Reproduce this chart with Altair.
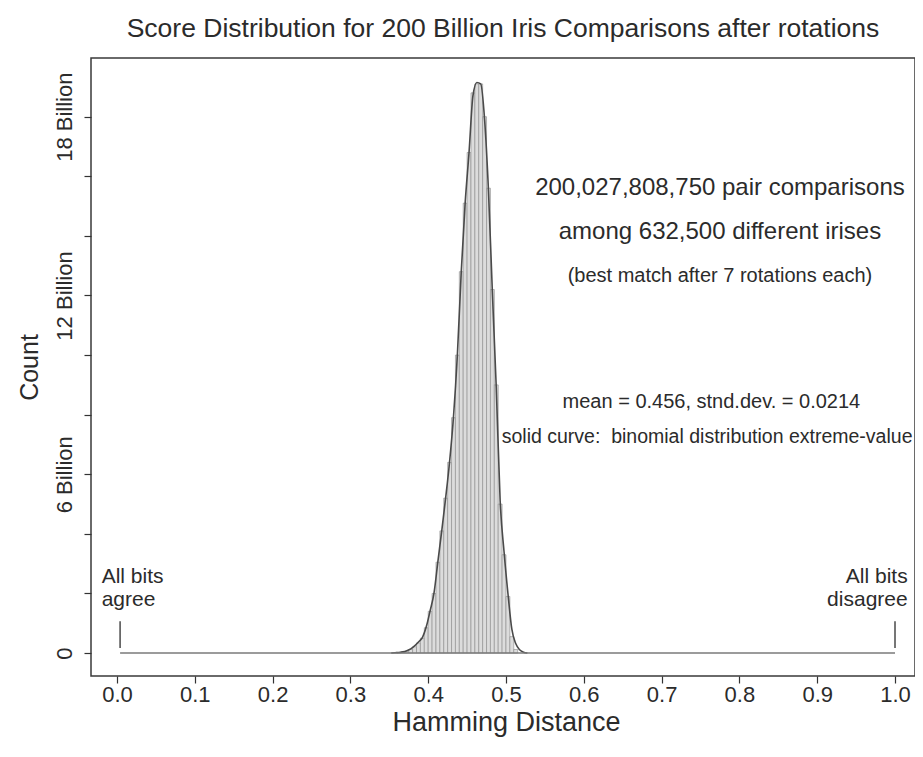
import altair as alt
import pandas as pd

# ---------------- data (counts in billions) ----------------
bin_left = [0.360, 0.365, 0.370, 0.375, 0.380, 0.385, 0.390, 0.395,
            0.400, 0.405, 0.410, 0.415, 0.420, 0.425, 0.430, 0.435,
            0.440, 0.445, 0.450, 0.455, 0.460, 0.465, 0.470, 0.475,
            0.480, 0.485, 0.490, 0.495, 0.500, 0.505, 0.510]
bin_right = [0.365, 0.370, 0.375, 0.380, 0.385, 0.390, 0.395, 0.400,
             0.405, 0.410, 0.415, 0.420, 0.425, 0.430, 0.435, 0.440,
             0.445, 0.450, 0.455, 0.460, 0.465, 0.470, 0.475, 0.480,
             0.485, 0.490, 0.495, 0.500, 0.505, 0.510, 0.515]
bar_count = [0.01, 0.03, 0.06, 0.12, 0.21, 0.34, 0.50, 0.85,
             1.40, 2.00, 3.05, 4.10, 5.20, 6.40, 7.90, 10.0,
             12.8, 15.1, 16.8, 18.8, 19.1, 19.1, 18.0, 15.6,
             12.2, 9.0, 5.0, 3.3, 1.9, 0.55, 0.12]

curve_x = [0.3525, 0.3575, 0.3625, 0.3675, 0.3725, 0.3775, 0.3825, 0.3875,
           0.3925, 0.3975, 0.4025, 0.4075, 0.4125, 0.4175, 0.4225, 0.4275,
           0.4325, 0.4375, 0.4425, 0.4475, 0.4525, 0.4575, 0.4625, 0.4675,
           0.4725, 0.4775, 0.4825, 0.4875, 0.4925, 0.4975, 0.5025, 0.5075,
           0.5125, 0.5175, 0.5225, 0.5275]
curve_y = [0.0, 0.01, 0.02, 0.04, 0.08, 0.14, 0.24, 0.37,
           0.52, 0.88, 1.42, 2.02, 3.08, 4.12, 5.22, 6.42,
           7.92, 10.0, 12.8, 15.1, 16.8, 18.7, 19.15, 19.1,
           17.9, 15.5, 12.1, 8.9, 5.1, 3.4, 2.0, 0.80,
           0.32, 0.11, 0.03, 0.0]

x_ticks = [0.0, 0.1, 0.2, 0.3, 0.4, 0.5, 0.6, 0.7, 0.8, 0.9, 1.0]
y_ticks = [0, 2, 4, 6, 8, 10, 12, 14, 16, 18]

baseline_from = [0.004]
baseline_to = [1.0]
end_mark_x = [0.004, 1.0]
end_mark_lo = [0.17, 0.17]
end_mark_hi = [1.07, 1.07]

title_text = "Score Distribution for 200 Billion Iris Comparisons after rotations"
notes_main = ["200,027,808,750 pair comparisons", "among 632,500 different irises"]
note_small = "(best match after 7 rotations each)"
note_stats = "mean = 0.456, stnd.dev. = 0.0214"
note_curve = "solid curve:\u00a0 binomial distribution extreme-value"
left_end = ["All bits", "agree"]
right_end = ["All bits", "disagree"]

# ---------------- styling ----------------
FONT = "Liberation Sans"
TXT = "#2b2b2b"

bars_df = pd.DataFrame({"left": bin_left, "right": bin_right, "count": bar_count})
curve_df = pd.DataFrame({"h": curve_x, "c": curve_y})
base_df = pd.DataFrame({"x0": baseline_from, "x1": baseline_to})
end_df = pd.DataFrame({"x": end_mark_x, "lo": end_mark_lo, "hi": end_mark_hi})

# plot area 824 px wide: 0.0 at 26 px, 1.0 at 804 px from its left edge
xs = alt.Scale(domain=[-0.0334, 1.0257], nice=False, zero=False)
ys = alt.Scale(domain=[-0.77, 19.97], nice=False, zero=False)

x_axis = alt.Axis(
    values=x_ticks, format=".1f", title="Hamming Distance", grid=False, domain=False,
    tickSize=7, tickColor="#333333", tickWidth=1.2,
    labelFont=FONT, labelFontSize=22, labelColor=TXT, labelPadding=18,
    labelBaseline="alphabetic", labelFlush=False, labelOverlap=False,
    titleFont=FONT, titleFontSize=27, titleFontWeight="normal", titleColor=TXT,
    titleX=415, titleY=54, titleAlign="center", titleBaseline="alphabetic",
)
y_axis = alt.Axis(
    values=y_ticks,
    labelExpr="datum.value == 0 ? '0' : (datum.value % 6 == 0 ? datum.value + ' Billion' : '')",
    labelAngle=270, labelAlign="center", labelBaseline="alphabetic", labelPadding=13,
    labelFont=FONT, labelFontSize=22, labelColor=TXT, labelOverlap=False, labelFlush=False,
    tickSize=7, tickColor="#333333", tickWidth=1.2, grid=False, domain=False,
    title="Count", titleFont=FONT, titleFontSize=25, titleFontWeight="normal", titleColor=TXT,
    titleAngle=270, titleX=-54, titleY=309, titleAlign="center", titleBaseline="alphabetic",
)

bars = alt.Chart(bars_df).mark_rect(
    fill="#dcdcdc", stroke="#8a8a8a", strokeWidth=0.6
).encode(
    x=alt.X("left:Q", scale=xs, axis=x_axis),
    x2="right:Q",
    y=alt.Y("count:Q", scale=ys, axis=y_axis),
    y2=alt.datum(0),
)

curve = alt.Chart(curve_df).mark_line(
    color="#4a4a4a", strokeWidth=1.6, interpolate="monotone"
).encode(x="h:Q", y="c:Q")

baseline = alt.Chart(base_df).mark_rule(color="#7a7a7a", strokeWidth=1.6).encode(
    x="x0:Q", x2="x1:Q", y=alt.datum(0)
)
end_marks = alt.Chart(end_df).mark_rule(color="#555555", strokeWidth=1.6).encode(
    x="x:Q", y="lo:Q", y2="hi:Q"
)


def note(txt, x, y, size, align="center"):
    return alt.Chart(pd.DataFrame({"t": [txt]})).mark_text(
        align=align, baseline="alphabetic", font=FONT, fontSize=size, color=TXT
    ).encode(x=alt.datum(x), y=alt.datum(y), text="t:N")


texts = [
    note(notes_main[0], 0.775, 15.37, 24),
    note(notes_main[1], 0.775, 13.89, 24),
    note(note_small, 0.775, 12.46, 20),
    note(note_stats, 0.764, 8.22, 20),
    note(note_curve, 0.4945, 7.06, 19.5, "left"),
    note(left_end[0], -0.0197, 2.35, 21, "left"),
    note(left_end[1], -0.0197, 1.58, 21, "left"),
    note(right_end[0], 1.0163, 2.35, 21, "right"),
    note(right_end[1], 1.0163, 1.58, 21, "right"),
]

chart = alt.layer(bars, curve, baseline, end_marks, *texts).properties(
    width=824,
    height=618,
    autosize=alt.AutoSizeParams(type="none"),
    padding={"left": 83, "top": 50, "right": 0, "bottom": 74},
    title=alt.TitleParams(
        title_text, font=FONT, fontSize=26.5, fontWeight="normal", color=TXT,
        offset=-5, baseline="alphabetic", anchor="middle",
    ),
).configure_view(stroke="#3a3a3a", strokeWidth=1.5)

chart.save("out.html", embed_options={"renderer": "svg", "actions": False})
